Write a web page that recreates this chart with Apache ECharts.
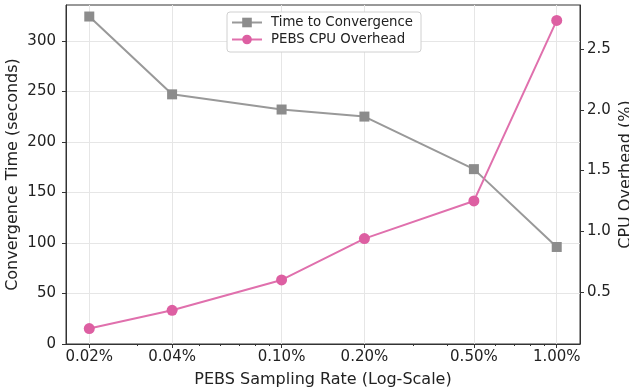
<!DOCTYPE html>
<html>
<head>
<meta charset="utf-8">
<script src="https://cdn.jsdelivr.net/npm/echarts@6/dist/echarts.min.js"></script>
<style>html,body{margin:0;padding:0;background:#fff}#c{width:629px;height:391px}</style>
</head>
<body>
<div id="c"></div>
<script>
const rates = [0.02, 0.04, 0.10, 0.20, 0.50, 1.00];
const rateLabels = ['0.02%', '0.04%', '0.10%', '0.20%', '0.50%', '1.00%'];
const convergenceTime = [324, 247, 232, 225, 173, 96];
const cpuOverhead = [0.20, 0.35, 0.60, 0.94, 1.25, 2.735];
const leftTicks = [0, 50, 100, 150, 200, 250, 300];
const rightTicks = [0.5, 1.0, 1.5, 2.0, 2.5];
const minorRates = [0.03, 0.05, 0.06, 0.07, 0.08, 0.09, 0.3, 0.4, 0.6, 0.7, 0.8, 0.9];

const font = 'DejaVu Sans';
const txt = '#222';
const axisCol = '#333';
const gray = '#8c8c8c';
const pink = '#dd5fa2';

const xMin = 0.01646, xMax = 1.215;

const chart = echarts.init(document.getElementById('c'), null, {renderer: 'canvas'});
chart.setOption({
  animation: false,
  backgroundColor: '#fff',
  textStyle: {fontFamily: font},
  grid: {left: 66, right: 49, top: 5, bottom: 47, outerBoundsMode: 'none', containLabel: false,
    show: true, borderColor: axisCol, borderWidth: 1, backgroundColor: 'transparent'},
  legend: {
    orient: 'vertical', left: 227, top: 12,
    backgroundColor: '#fff', borderColor: '#d0d0d0', borderWidth: 1, borderRadius: 3,
    padding: [4, 8, 6, 4], itemGap: 4, itemWidth: 30, itemHeight: 12,
    textStyle: {fontFamily: font, fontSize: 13.3, color: txt, padding: [0, 0, 0, 4]},
    data: ['Time to Convergence', 'PEBS CPU Overhead']
  },
  xAxis: [{
    type: 'log', logBase: 10, min: xMin, max: xMax,
    name: 'PEBS Sampling Rate (Log-Scale)', nameLocation: 'middle', nameGap: 28, nameMoveOverlap: false,
    nameTextStyle: {fontFamily: font, fontSize: 16, color: txt},
    axisLine: {show: true, lineStyle: {color: axisCol}},
    axisTick: {show: true, length: 4, customValues: rates, lineStyle: {color: axisCol}},
    axisLabel: {customValues: rates, fontFamily: font, fontSize: 15, color: txt, margin: 6,
      formatter: v => { let i = rates.findIndex(r => Math.abs(r - v) < 1e-9); return i >= 0 ? rateLabels[i] : ''; }},
    splitLine: {show: true, lineStyle: {color: '#e6e6e6', width: 1}}
  }, {
    type: 'log', logBase: 10, min: xMin, max: xMax, position: 'bottom', gridIndex: 0,
    axisLine: {show: false},
    axisTick: {show: true, length: 2, customValues: minorRates, lineStyle: {color: axisCol}},
    axisLabel: {show: false},
    splitLine: {show: false}
  }],
  yAxis: [{
    type: 'value', min: 0, max: 335.4, position: 'left',
    name: 'Convergence Time (seconds)', nameLocation: 'middle', nameGap: 45, nameRotate: 90, nameMoveOverlap: false,
    nameTextStyle: {fontFamily: font, fontSize: 16, color: txt},
    axisLine: {show: true, lineStyle: {color: axisCol}},
    axisTick: {show: true, length: 4, customValues: leftTicks, lineStyle: {color: axisCol}},
    axisLabel: {customValues: leftTicks, fontFamily: font, fontSize: 15, color: txt, margin: 10},
    splitLine: {show: true, lineStyle: {color: '#e6e6e6', width: 1}}
  }, {
    type: 'value', min: 0.073, max: 2.862, position: 'right',
    name: 'CPU Overhead (%)', nameLocation: 'middle', nameGap: 38, nameRotate: 90, nameMoveOverlap: false,
    nameTextStyle: {fontFamily: font, fontSize: 16, color: txt},
    axisLine: {show: true, lineStyle: {color: axisCol}},
    axisTick: {show: true, length: 4, customValues: rightTicks, lineStyle: {color: axisCol}},
    axisLabel: {customValues: rightTicks, fontFamily: font, fontSize: 15, color: txt, margin: 7,
      formatter: v => v.toFixed(1)},
    splitLine: {show: false}
  }],
  series: [{
    name: 'Time to Convergence', type: 'line', xAxisIndex: 0, yAxisIndex: 0,
    data: rates.map((r, i) => [r, convergenceTime[i]]),
    symbol: 'rect', symbolSize: 10,
    lineStyle: {color: '#999', width: 2},
    itemStyle: {color: gray, borderWidth: 0},
    z: 3
  }, {
    name: 'PEBS CPU Overhead', type: 'line', xAxisIndex: 0, yAxisIndex: 1,
    data: rates.map((r, i) => [r, cpuOverhead[i]]),
    symbol: 'circle', symbolSize: 11,
    lineStyle: {color: '#e070ad', width: 2},
    itemStyle: {color: pink, borderWidth: 0},
    z: 4
  }]
});
</script>
</body>
</html>
